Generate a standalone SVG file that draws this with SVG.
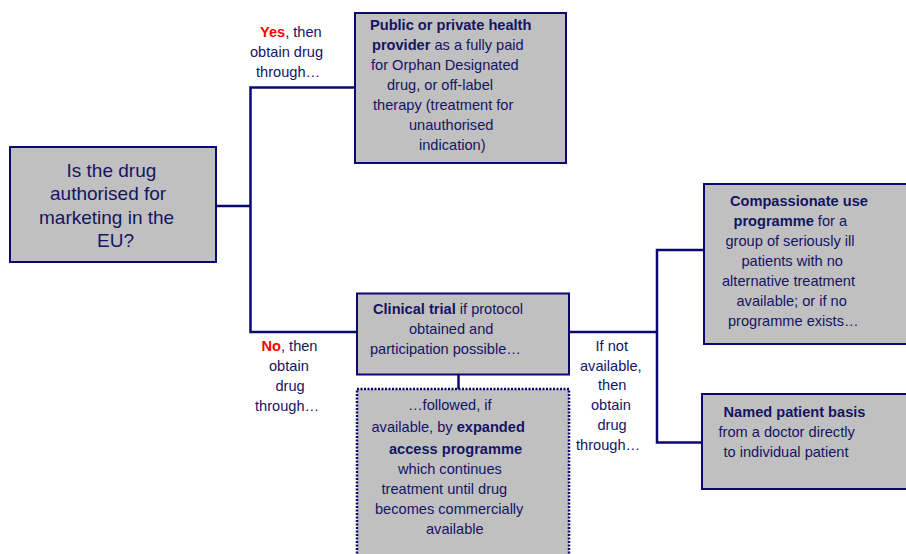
<svg xmlns="http://www.w3.org/2000/svg" width="906" height="554" viewBox="0 0 906 554">
<style>
.box{fill:#c0c0c0;stroke:#0a0a6e;stroke-width:2}
.dot{fill:#c0c0c0;stroke:#0a0a6e;stroke-width:2.5;stroke-dasharray:2 1.5}
.ln{fill:none;stroke:#0a0a6e;stroke-width:2.5}
text{font-family:"Liberation Sans",Arial,sans-serif;font-size:14.6px;fill:#141464}
.q{font-size:19px}
.b{font-weight:bold}
.r{fill:#ff0000;font-weight:bold}
</style>
<rect width="906" height="554" fill="#ffffff"/>
<g id="connectors">
<polyline class="ln" points="216,206 250,206"/>
<polyline class="ln" points="355,87.5 250.5,87.5 250.5,332 357,332"/>
<line class="ln" x1="458.5" y1="374" x2="458.5" y2="389"/>
<polyline class="ln" points="569,332 657,332"/>
<polyline class="ln" points="704,250 657,250 657,442.5 702,442.5"/>
</g>
<g id="question">
<rect class="box" x="10" y="147" width="206" height="115"/>
<text class="q" x="66.5" y="177">Is the drug</text>
<text class="q" x="50" y="200">authorised for</text>
<text class="q" x="39" y="223.5">marketing in the</text>
<text class="q" x="97" y="247">EU?</text>
</g>
<g id="yes-label">
<text x="260" y="37"><tspan class="r">Yes</tspan>, then</text>
<text x="250" y="57">obtain drug</text>
<text x="256" y="77">through…</text>
</g>
<g id="no-label">
<text x="261.5" y="351"><tspan class="r">No</tspan>, then</text>
<text x="269" y="371">obtain</text>
<text x="275.5" y="391">drug</text>
<text x="255" y="411">through…</text>
</g>
<g id="public">
<rect class="box" x="355" y="13" width="211" height="150"/>
<text x="370" y="30" class="b">Public or private health</text>
<text x="372" y="50"><tspan class="b">provider</tspan> as a fully paid</text>
<text x="371" y="70">for Orphan Designated</text>
<text x="387" y="90">drug, or off-label</text>
<text x="373" y="110">therapy (treatment for</text>
<text x="409" y="130">unauthorised</text>
<text x="419" y="150">indication)</text>
</g>
<g id="clinical">
<rect class="box" x="357" y="293.5" width="212" height="81"/>
<text x="373" y="314"><tspan class="b">Clinical trial</tspan> if protocol</text>
<text x="409" y="334">obtained and</text>
<text x="370" y="354">participation possible…</text>
</g>
<g id="expanded">
<rect class="dot" x="357" y="389" width="212" height="180"/>
<text x="408" y="409.5">…followed, if</text>
<text x="371.5" y="431.5">available, by <tspan class="b">expanded</tspan></text>
<text x="389" y="453.5" class="b">access programme</text>
<text x="398" y="473.5">which continues</text>
<text x="381.5" y="493.5">treatment until drug</text>
<text x="375" y="513.5">becomes commercially</text>
<text x="426" y="533.5">available</text>
</g>
<g id="not-available-label">
<text x="595.5" y="351">If not</text>
<text x="580" y="371">available,</text>
<text x="598" y="390">then</text>
<text x="591" y="410">obtain</text>
<text x="597.5" y="430">drug</text>
<text x="576" y="450">through…</text>
</g>
<g id="compassionate">
<rect class="box" x="704" y="184" width="220" height="160"/>
<text x="730" y="206" class="b">Compassionate use</text>
<text x="733.5" y="226"><tspan class="b">programme</tspan> for a</text>
<text x="725.5" y="246">group of seriously ill</text>
<text x="741.5" y="266">patients with no</text>
<text x="722" y="286">alternative treatment</text>
<text x="736.5" y="306">available; or if no</text>
<text x="728" y="326">programme exists…</text>
</g>
<g id="named">
<rect class="box" x="702" y="394" width="220" height="95"/>
<text x="723.5" y="417" class="b">Named patient basis</text>
<text x="718.5" y="437">from a doctor directly</text>
<text x="723.5" y="457">to individual patient</text>
</g>
</svg>
